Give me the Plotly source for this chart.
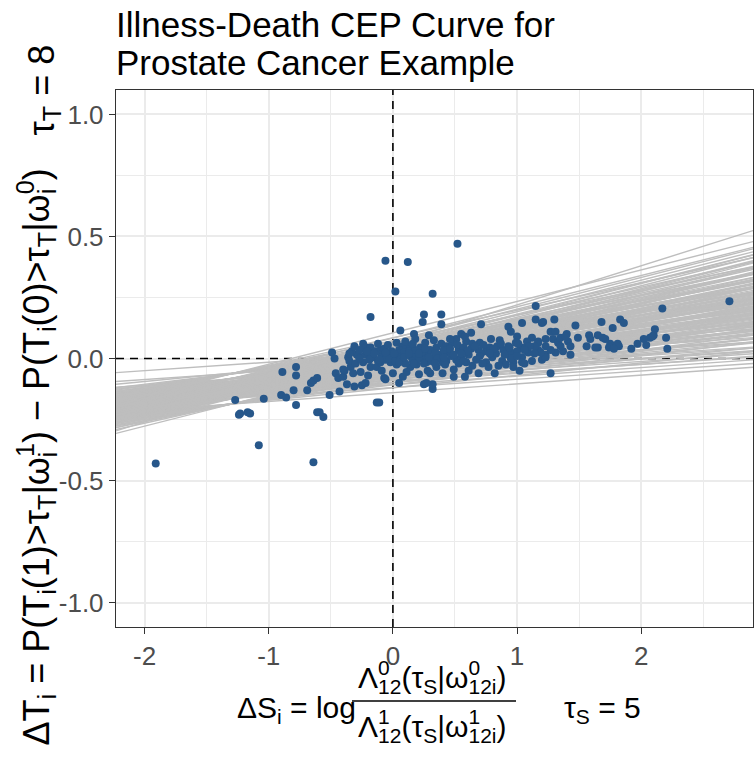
import plotly.graph_objects as go

# ---------------- data ----------------
# posterior draws of the CEP regression line: intercepts and slopes
intercepts = [
    -0.140, -0.119, -0.107, -0.098, -0.090, -0.082, -0.075, -0.067, -0.059, -0.049, -0.037, -0.016,
    -0.120, -0.099, -0.087, -0.077, -0.069, -0.061, -0.054, -0.046, -0.038, -0.029, -0.017, 0.004,
    -0.108, -0.087, -0.075, -0.066, -0.057, -0.050, -0.042, -0.035, -0.026, -0.017, -0.005, 0.016,
    -0.099, -0.078, -0.066, -0.056, -0.048, -0.040, -0.033, -0.025, -0.017, -0.008, 0.004, 0.025,
    -0.090, -0.070, -0.058, -0.048, -0.040, -0.032, -0.025, -0.017, -0.009, 0.000, 0.012, 0.033,
    -0.083, -0.062, -0.050, -0.041, -0.032, -0.025, -0.017, -0.010, -0.001, 0.008, 0.020, 0.041,
    -0.076, -0.055, -0.043, -0.034, -0.025, -0.018, -0.010, -0.003, 0.006, 0.015, 0.027, 0.048,
    -0.068, -0.047, -0.035, -0.026, -0.018, -0.010, -0.003, 0.005, 0.013, 0.023, 0.035, 0.056,
    -0.060, -0.039, -0.027, -0.018, -0.010, -0.002, 0.005, 0.013, 0.021, 0.031, 0.043, 0.064,
    -0.051, -0.030, -0.018, -0.009, -0.001, 0.007, 0.015, 0.022, 0.031, 0.040, 0.052, 0.073,
    -0.039, -0.018, -0.006, 0.003, 0.011, 0.019, 0.026, 0.034, 0.042, 0.052, 0.064, 0.085,
    -0.019, 0.002, 0.014, 0.023, 0.032, 0.040, 0.047, 0.054, 0.063, 0.072, 0.084, 0.105,
    0.020, 0.060]
slopes = [
    0.036, 0.034, 0.035, 0.037, 0.033, 0.035, 0.036, 0.034, 0.035, 0.033, 0.036, 0.035,
    0.051, 0.049, 0.052, 0.050, 0.051, 0.049, 0.052, 0.050, 0.051, 0.050, 0.052, 0.049,
    0.060, 0.058, 0.061, 0.059, 0.060, 0.062, 0.059, 0.060, 0.061, 0.058, 0.060, 0.061,
    0.067, 0.066, 0.068, 0.067, 0.065, 0.068, 0.067, 0.066, 0.068, 0.067, 0.066, 0.068,
    0.073, 0.074, 0.072, 0.073, 0.075, 0.073, 0.072, 0.074, 0.073, 0.072, 0.074, 0.073,
    0.079, 0.080, 0.078, 0.079, 0.081, 0.079, 0.078, 0.080, 0.079, 0.080, 0.078, 0.079,
    0.085, 0.084, 0.086, 0.085, 0.083, 0.085, 0.086, 0.084, 0.085, 0.086, 0.084, 0.085,
    0.091, 0.090, 0.092, 0.090, 0.091, 0.089, 0.091, 0.092, 0.090, 0.091, 0.089, 0.091,
    0.097, 0.096, 0.098, 0.097, 0.095, 0.097, 0.098, 0.096, 0.097, 0.098, 0.096, 0.097,
    0.104, 0.103, 0.105, 0.104, 0.102, 0.104, 0.105, 0.103, 0.104, 0.105, 0.103, 0.104,
    0.113, 0.112, 0.114, 0.113, 0.115, 0.113, 0.112, 0.114, 0.113, 0.112, 0.114, 0.113,
    0.129, 0.128, 0.130, 0.129, 0.127, 0.129, 0.130, 0.128, 0.129, 0.130, 0.128, 0.129,
    0.035, 0.160]

# individual patients: scattered points
outer_x = [-1.91, -1.27, -1.24, -1.23, -1.17, -1.15, -1.08, -1.04, -0.89, -0.90,
           -0.86, -0.78, -0.78, -0.80, -0.78, -0.69, -0.66, -0.64, -0.61, -0.64,
           -0.61, -0.59, -0.56, -0.51, -0.49, -0.47, -0.46, -0.44, -0.40, -0.39,
           -0.43, -0.36, -0.24, -0.22, -0.28, -0.37, -0.31, -0.25, -0.22, -0.13,
           -0.11, -0.07, -0.18, -0.06, 0.12, 0.02, 0.06, 0.25, 0.24, 0.32,
           0.17, 0.18, 0.13, 0.08, 0.05, 0.25, 0.32, 0.30, 0.52, 1.15,
           2.17, 2.71, 1.15, 1.30, 1.20, 0.71, 0.93, 1.04, 1.68, 1.83,
           1.86, 1.47, 1.77, 2.11, 1.27, 2.21, 2.20, 2.10, 2.07, 2.02,
           2.04, 1.97, 1.92, 1.56, 1.65, 1.75, 1.82, 1.58, 1.65, 1.71,
           1.49, 0.32, 0.27, 0.39, 0.39, 0.63, 0.55, 0.51, 0.79, 0.95,
           1.00, 1.12, 1.17, 1.23, 1.27, 1.31, 1.40, 1.59, 1.69, 1.81,
           1.74, 1.78, 1.63, 2.09, 1.21]
outer_y = [-0.43, -0.17, -0.23, -0.225, -0.22, -0.225, -0.355, -0.165, -0.055, -0.15,
           -0.16, -0.035, -0.07, -0.13, -0.19, -0.13, -0.10, -0.09, -0.08, -0.425,
           -0.22, -0.22, -0.24, -0.15, 0.025, 0.0, -0.06, -0.08, -0.075, -0.05,
           -0.135, 0.005, 0.06, 0.045, 0.015, -0.105, -0.115, -0.11, -0.10, -0.18,
           -0.18, -0.08, 0.17, 0.40, 0.395, 0.275, 0.115, 0.18, 0.15, 0.265,
           0.10, 0.08, 0.05, -0.075, -0.10, -0.105, -0.125, -0.06, 0.47, 0.215,
           0.205, 0.235, 0.16, 0.16, 0.145, 0.14, 0.13, 0.145, 0.15, 0.16,
           0.145, 0.135, 0.125, 0.12, -0.06, 0.04, 0.085, 0.095, 0.085, 0.08,
           0.055, 0.06, 0.04, 0.05, 0.045, 0.06, 0.05, 0.095, 0.095, 0.08,
           0.085, -0.105, -0.10, 0.18, 0.14, 0.105, 0.10, 0.08, 0.08, 0.11,
           0.09, 0.085, 0.07, 0.08, 0.11, 0.11, 0.10, 0.08, 0.085, 0.06,
           0.045, 0.04, 0.045, 0.09, 0.15]

# individual patients: dense central cluster
core_x = [-0.22, -0.29, -0.16, -0.09, -0.05, 0.00, 0.04, 0.11, 0.15, 0.19,
          0.24, 0.28, 0.32, 0.37, 0.43, -0.40, -0.34, -0.32, -0.26, -0.18,
          -0.13, -0.10, -0.02, 0.03, 0.08, 0.14, 0.19, 0.27, 0.35, 0.40,
          -0.06, -0.18, -0.10, 0.08, 0.22, 0.35, 0.29, 0.39,
          0.43, 0.48, 0.59, 0.64, 0.45, 0.53, 0.61, 0.69, 0.75, 0.84,
          0.89, 0.95, 1.03, 1.09, 1.17, 1.23, 0.43, 0.51, 0.59, 0.67,
          0.75, 0.80, 0.88, 0.97, 1.04, 1.12, 1.20, 0.49, 0.49, 0.61,
          0.69, 0.77, 0.91, 0.97, 1.04, 0.37,
          1.17, 1.23, 1.29, 1.33, 1.35, 1.41, 1.43, 1.37, 1.31, 1.43,
          1.23, 1.27, 1.19, 1.35, 1.39]
core_y = [0.015, 0.015, 0.005, 0.01, 0.015, 0.005, 0.01, 0.015, 0.005, 0.015,
          0.005, 0.025, -0.005, 0.01, 0.025, -0.045, -0.035, -0.06, -0.055, -0.035,
          -0.035, -0.015, -0.015, -0.025, -0.01, -0.035, -0.025, -0.015, -0.035, -0.015,
          -0.085, 0.045, 0.035, 0.05, 0.045, 0.045, 0.095, 0.06,
          0.05, 0.065, 0.07, 0.06, 0.025, 0.035, 0.015, 0.035, 0.03, 0.05,
          0.035, 0.025, 0.045, 0.025, 0.035, 0.015, -0.01, -0.005, -0.015, -0.005,
          -0.015, 0.005, -0.01, -0.015, 0.005, -0.01, -0.005, -0.045, -0.075, -0.05,
          -0.06, -0.035, -0.025, -0.035, -0.015, 0.015,
          0.065, 0.05, 0.08, 0.065, 0.085, 0.07, 0.05, 0.03, 0.025, 0.015,
          0.005, 0.035, 0.025, 0.05, 0.09]

fill_x = [-0.33, -0.27, -0.20, -0.14, -0.07, -0.01, 0.05, 0.09, 0.13, 0.18,
          0.23, 0.30, 0.34, 0.41, 0.47, 0.55, 0.63, 0.71, 0.78, 0.83,
          0.93, 1.00, 1.07, 1.14,
          -0.35, -0.30, -0.24, -0.19, -0.12, -0.06, -0.03, 0.02, 0.06, 0.10,
          0.16, 0.21, 0.25, 0.31, 0.36, 0.42, 0.53, 0.64, 0.72, 0.85,
          0.95, 1.06,
          -0.31, -0.12, -0.04, 0.03, 0.10, 0.16, 0.26, 0.33, 0.46, 0.58,
          0.70, 0.86, 0.99, 1.08,
          -0.20, -0.09, 0.00, 0.11, 0.21, 0.28, 0.40, 0.58, 0.82, 1.02,
          0.52, 0.57, 0.66, 0.73, 0.81, 0.87, 0.94, 1.01, 1.10, 1.14,
          0.60, 0.70, 0.78, 0.90, 1.00, 1.06,
          -0.35, -0.27, -0.21, -0.15, -0.11, -0.06, 0.01, 0.05, 0.09, 0.13,
          0.17, 0.21, 0.26, 0.29, 0.34, 0.41, 0.46, 0.49, 0.55, 0.57]
fill_y = [0.03, 0.035, 0.025, 0.03, 0.04, 0.03, 0.035, 0.025, 0.03, 0.035,
          0.025, 0.035, 0.02, 0.035, 0.01, 0.005, 0.04, 0.02, 0.045, 0.02,
          0.05, 0.03, 0.045, 0.05,
          -0.01, -0.02, -0.015, -0.005, -0.01, -0.005, 0.0, -0.01, -0.005, -0.02,
          -0.01, 0.0, -0.02, -0.01, 0.0, -0.025, -0.02, -0.03, -0.02, -0.03,
          0.0, -0.02,
          0.05, 0.06, 0.055, 0.065, 0.07, 0.06, 0.065, 0.075, 0.08, 0.09,
          0.065, 0.075, 0.065, 0.07,
          -0.07, -0.05, -0.06, -0.055, -0.065, -0.05, -0.06, -0.075, -0.06, -0.05,
          0.055, 0.045, 0.05, 0.055, 0.04, 0.06, 0.045, 0.06, 0.05, 0.02,
          0.03, 0.01, 0.02, 0.015, 0.01, 0.035,
          0.02, 0.0, 0.03, 0.02, -0.005, 0.025, 0.02, -0.015, 0.005, 0.02,
          -0.02, 0.02, 0.04, 0.005, -0.02, 0.005, 0.04, 0.015, 0.02, -0.01]

x_tickvals = [-2, -1, 0, 1, 2]
x_ticktext = ["-2", "-1", "0", "1", "2"]
x_minor = [-1.5, -0.5, 0.5, 1.5, 2.5]
y_tickvals = [-1.0, -0.5, 0.0, 0.5, 1.0]
y_ticktext = ["-1.0", "-0.5", "0.0", "0.5", "1.0"]
y_minor = [-0.75, -0.25, 0.25, 0.75]
x_range = [-2.23, 2.9]
y_range = [-1.1, 1.1]
ref_x = 0.0
ref_y = 0.0

title_lines = ["Illness-Death CEP Curve for", "Prostate Cancer Example"]

# ---------------- layout helpers ----------------
W, H = 754, 757
ML, MR, MT, MB = 116, 1, 90, 130
PW, PH = W - ML - MR, H - MT - MB


def pxx(px):
    return (px - ML) / PW


def pxy(py):
    return (H - MB - py) / PH


def T(s):
    return "<span style='color:rgba(0,0,0,0)'>" + s + "</span>"


def build_layers(segs):
    base, prefix, overlays = "", "", []
    for s in segs:
        if s[0] == 'n':
            base += s[1]
            prefix += T(s[1])
        elif s[0] in ('sub', 'sup'):
            base += f"<{s[0]}>{s[1]}</{s[0]}>"
            prefix += f"<{s[0]}>{T(s[1])}</{s[0]}>"
        else:
            _, sup, sub, wide = s
            narrow = 'sub' if wide == 'sup' else 'sup'
            wt = sup if wide == 'sup' else sub
            nt = sub if wide == 'sup' else sup
            overlays.append(prefix + f"<{narrow}>{nt}</{narrow}>")
            base += f"<{wide}>{wt}</{wide}>"
            prefix += f"<{wide}>{T(wt)}</{wide}>"
    pad = "<sup>" + T("0") + "</sup><sub>" + T("0") + "</sub>"
    return [base + pad] + [o + pad for o in overlays]


FONT = "Liberation Sans, Arial, sans-serif"
XT_FS = 30
YT_FS = 36

fig = go.Figure()

# reference dashed lines (under the posterior lines)
fig.add_trace(go.Scatter(x=[ref_x, ref_x], y=y_range, mode="lines",
                         line=dict(color="black", width=1.6, dash="8px,6px"),
                         hoverinfo="skip", showlegend=False))
fig.add_trace(go.Scatter(x=x_range, y=[ref_y, ref_y], mode="lines",
                         line=dict(color="black", width=1.6, dash="8px,6px"),
                         hoverinfo="skip", showlegend=False))

# posterior regression lines
lx, ly = [], []
for a, b in zip(intercepts, slopes):
    lx += [x_range[0], x_range[1], None]
    ly += [a + b * x_range[0], a + b * x_range[1], None]
fig.add_trace(go.Scatter(x=lx, y=ly, mode="lines",
                         line=dict(color="#BEBEBE", width=1.4),
                         hoverinfo="skip", showlegend=False))

pt_x = outer_x + core_x + fill_x
pt_y = outer_y + core_y + fill_y
fig.add_trace(go.Scatter(x=pt_x, y=pt_y, mode="markers",
                         marker=dict(color="#27578A", size=8, line=dict(width=0)),
                         showlegend=False))

axis_common = dict(
    ticks="outside", ticklen=6, tickwidth=1.4, tickcolor="#333333",
    showline=True, mirror=True, linecolor="#333333", linewidth=1.4,
    showgrid=True, gridcolor="#EBEBEB", gridwidth=2, zeroline=False,
    tickfont=dict(family=FONT, size=26, color="#4D4D4D"),
)
fig.update_xaxes(range=x_range, tickvals=x_tickvals, ticktext=x_ticktext,
                 minor=dict(tickvals=x_minor, showgrid=True, gridcolor="#EBEBEB",
                            gridwidth=1, ticks=""),
                 **axis_common)
fig.update_yaxes(range=y_range, tickvals=y_tickvals, ticktext=y_ticktext,
                 minor=dict(tickvals=y_minor, showgrid=True, gridcolor="#EBEBEB",
                            gridwidth=1, ticks=""),
                 **axis_common)

ann = []
# title
ann.append(dict(text=title_lines[0], x=pxx(114), y=pxy(25), xanchor="left", yanchor="middle",
                font=dict(family=FONT, size=35, color="black")))
ann.append(dict(text=title_lines[1], x=pxx(114), y=pxy(62), xanchor="left", yanchor="middle",
                font=dict(family=FONT, size=35, color="black")))

# y axis title (rotated)
ysegs = [('n', 'ΔT'), ('sub', 'i'), ('n', ' = P(T'), ('sub', 'i'), ('n', '(1)&gt;τ'), ('sub', 'T'),
         ('n', '|ω'), ('pair', '1', 'i', 'sup'), ('n', ') − P(T'), ('sub', 'i'),
         ('n', '(0)&gt;τ'), ('sub', 'T'), ('n', '|ω'), ('pair', '0', 'i', 'sup'), ('n', ')')]
for t in build_layers(ysegs):
    ann.append(dict(text=t, x=pxx(36), y=pxy(748), xanchor="center", yanchor="bottom",
                    textangle=-90, font=dict(family=FONT, size=YT_FS, color="black")))
ann.append(dict(text="τ<sub>T</sub> = 8", x=pxx(43), y=pxy(138), xanchor="center", yanchor="bottom",
                textangle=-90, font=dict(family=FONT, size=YT_FS, color="black")))

# x axis title with fraction
ann.append(dict(text="ΔS<sub>i</sub> = log", x=pxx(235), y=pxy(710), xanchor="left", yanchor="middle",
                font=dict(family=FONT, size=XT_FS, color="black")))
for lvl, yy, ya in (("0", 700, "bottom"), ("1", 703, "top")):
    segs = [('n', 'Λ'), ('pair', lvl, '12', 'sub'), ('n', '(τ'), ('sub', 'S'), ('n', '|ω'),
            ('pair', lvl, '12i', 'sub'), ('n', ')')]
    for t in build_layers(segs):
        ann.append(dict(text=t, x=pxx(356), y=pxy(yy), xanchor="left", yanchor=ya,
                        font=dict(family=FONT, size=XT_FS, color="black")))
ann.append(dict(text="τ<sub>S</sub> = 5", x=pxx(562), y=pxy(710), xanchor="left", yanchor="middle",
                font=dict(family=FONT, size=XT_FS, color="black")))

for a in ann:
    a.update(xref="paper", yref="paper", showarrow=False)

fig.update_layout(
    width=W, height=H,
    margin=dict(l=ML, r=MR, t=MT, b=MB),
    paper_bgcolor="white", plot_bgcolor="white",
    showlegend=False,
    annotations=ann,
    shapes=[dict(type="line", xref="paper", yref="paper",
                 x0=pxx(352), x1=pxx(516), y0=pxy(701), y1=pxy(701),
                 line=dict(color="black", width=1.5))],
)

fig.write_html("out.html")
